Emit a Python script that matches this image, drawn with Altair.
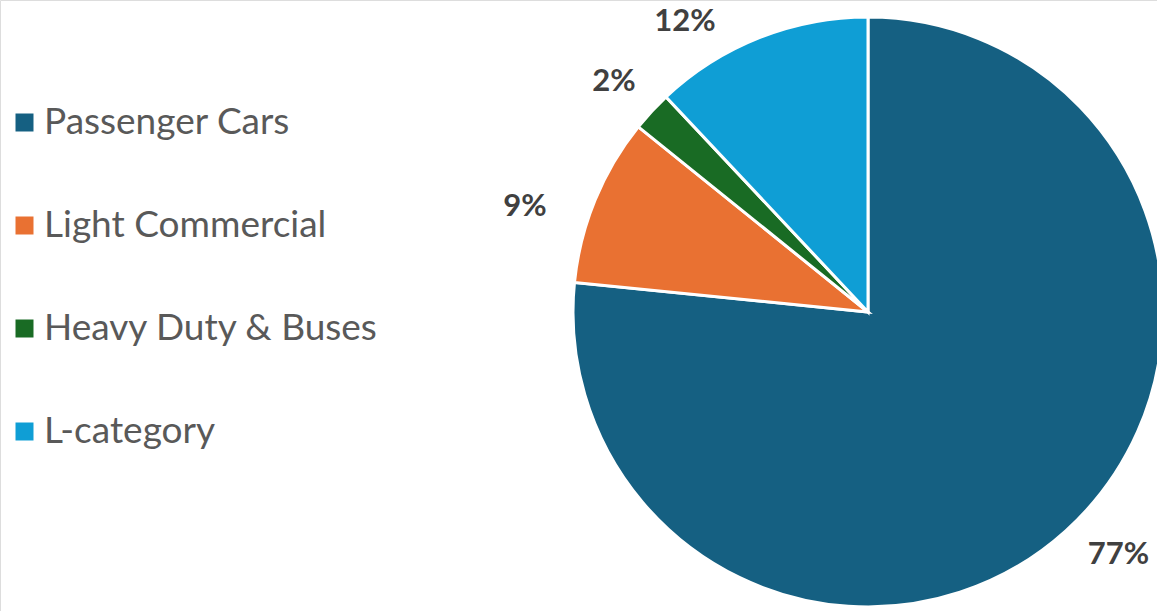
import altair as alt
import pandas as pd

categories = ["Passenger Cars", "Light Commercial", "Heavy Duty & Buses", "L-category"]
shares = [76.6, 9.2, 2.2, 12.0]
labels = ["77%", "9%", "2%", "12%"]
colors = ["#156082", "#E97132", "#196B24", "#0F9ED5"]

df = pd.DataFrame({
    "category": categories,
    "share": shares,
    "label": labels,
    "order": list(range(len(categories))),
})

# layout (style, not data)
CX, CY, R = 868, 312, 295
LABEL_R = 345
label_offsets = {
    "Passenger Cars": (19, -13),
    "Light Commercial": (-24, 26),
    "Heavy Duty & Buses": (-1, 5),
    "L-category": (-56, 31),
}

color_scale = alt.Scale(domain=categories, range=colors)

base = alt.Chart(df).encode(
    theta=alt.Theta("share:Q", stack=True),
    order=alt.Order("order:Q"),
)

pie = base.mark_arc(outerRadius=R, stroke="white", strokeWidth=3).encode(
    x=alt.value(CX),
    y=alt.value(CY),
    color=alt.Color(
        "category:N",
        scale=color_scale,
        sort=categories,
        legend=alt.Legend(
            title=None,
            orient="none",
            legendX=6,
            legendY=104,
            symbolType="square",
            symbolSize=324,
            symbolStrokeWidth=0,
            labelFont="Lato",
            labelFontSize=37,
            labelColor="#595959",
            labelOffset=1,
            rowPadding=65,
            padding=0,
            labelLimit=500,
        ),
    ),
)

layers = [pie]
for cat, (dx, dy) in label_offsets.items():
    t = base.mark_text(
        radius=LABEL_R,
        font="Lato",
        fontSize=31,
        fontWeight="bold",
        color="#404040",
        dx=dx,
        dy=dy,
    ).encode(
        x=alt.value(CX),
        y=alt.value(CY),
        text=alt.condition(alt.datum.category == cat, "label:N", alt.value("")),
    )
    layers.append(t)

chart = alt.layer(*layers).properties(
    width=1157,
    height=611,
    autosize=alt.AutoSizeParams(type="none"),
    padding=0,
).configure_view(stroke=None).configure(background="white")

chart.save("out.html", embed_options={"renderer": "svg", "actions": False})
